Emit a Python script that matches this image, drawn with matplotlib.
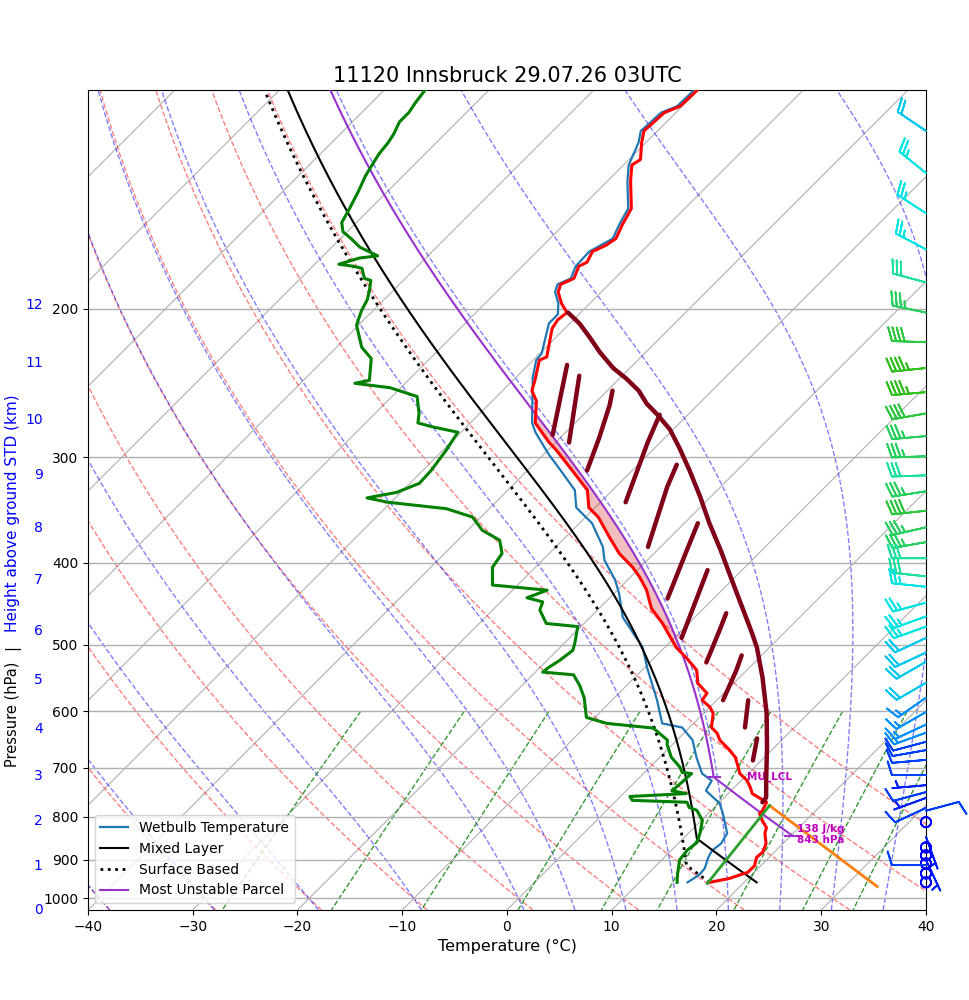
import numpy as np
import matplotlib
matplotlib.use('Agg')
import matplotlib.pyplot as plt
import matplotlib.transforms as mtransforms
from matplotlib.colors import LinearSegmentedColormap, Normalize
from matplotlib.ticker import FixedLocator, NullLocator, FuncFormatter

title = '11120 Innsbruck 29.07.26 03UTC'

# ---- sounding (hPa, degC) ----
pres = [957, 947, 931, 914, 894, 881, 861, 837, 824, 808, 793, 787, 769, 751, 738,
        724, 711, 695, 680, 667, 649, 637, 627, 603, 593, 582, 571, 556, 536, 518,
        504, 494, 472, 453, 431, 423, 416, 405, 390, 373, 353, 344, 328, 308, 294,
        288, 273, 257, 250, 243, 230, 228, 211, 206, 202, 197, 191, 187, 184, 178,
        176, 171, 168, 165, 159, 152, 141, 135, 133, 127, 123, 120, 117, 115, 110]
temp = [16.7, 18.2, 19.4, 19.4, 18.8, 18.9, 18.4, 17.3, 16.9, 15.8, 14.9, 14.9, 14.5, 12.3, 11.5,
        10.5, 9.2, 8.2, 7.2, 6.0, 4.1, 3.2, 2.1, 0.9, 0.0, -1.4, -1.6, -3.4, -4.8, -7.0,
        -8.9, -10.0, -12.5, -15.0, -17.2, -18.2, -19.1, -20.7, -23.3, -25.8, -28.8, -30.6, -32.4, -36.3, -39.2,
        -40.6, -43.8, -45.8, -47.2, -47.9, -49.4, -49.0, -51.2, -51.5, -51.3, -52.7, -54.1, -54.6, -53.9, -54.6,
        -54.2, -54.7, -54.0, -53.7, -54.4, -55.1, -57.8, -59.2, -58.9, -60.4, -61.3, -61.2, -61.1, -60.2, -60.1]

dew_pres = [957, 934, 900, 877, 858, 837, 808, 786, 780, 769, 765, 757, 751, 745, 728,
            711, 709, 699, 680, 657, 649, 628, 620, 610, 578, 559, 543, 539, 533, 522,
            508, 498, 476, 472, 455, 445, 440, 431, 425, 405, 390, 376, 366, 353, 345,
            339, 335, 330, 322, 311, 294, 280, 276, 273, 266, 254, 248, 245, 243, 229,
            222, 209, 201, 195, 190, 185, 184, 179, 178, 177, 174, 173, 169, 165, 162,
            158, 152, 145, 139, 135, 131, 127, 124, 120, 117, 114, 110]
dewp = [13.6, 12.8, 11.7, 11.5, 11.7, 11.1, 10.1, 8.6, 7.6, 6.9, 1.5, 0.9, 6.0, 4.4, 4.5,
        4.6, 3.6, 2.9, 1.1, -0.5, -0.9, -3.4, -8.3, -10.8, -12.9, -14.5, -16.1, -19.3, -19.2, -18.8,
        -18.5, -19.0, -20.3, -23.6, -25.5, -26.0, -27.9, -26.7, -32.4, -34.1, -34.5, -36.0, -38.6, -40.8, -44.1,
        -50.3, -52.7, -50.4, -49.1, -49.2, -49.7, -50.3, -53.2, -55.0, -55.8, -57.6, -61.0, -64.8, -63.7, -65.6,
        -67.6, -70.2, -71.1, -71.6, -72.3, -73.1, -73.9, -75.1, -76.1, -77.7, -76.3, -74.8, -77.3, -79.0, -80.4,
        -81.4, -82.0, -82.8, -83.6, -84.0, -84.4, -84.6, -84.9, -85.5, -85.5, -85.8, -86.1]

wb_pres = [957, 937, 921, 894, 877, 861, 837, 793, 771, 745, 725, 711, 680, 649, 627,
           620, 582, 532, 504, 464, 435, 419, 397, 383, 359, 344, 328, 311, 297, 280,
           273, 241, 230, 226, 208, 203, 197, 191, 187, 184, 178, 171, 165, 159, 152,
           141, 135, 127, 123, 117, 115, 110]
wetbulb = [14.6, 15.0, 14.9, 14.2, 13.9, 14.1, 13.7, 11.4, 10.1, 7.6, 7.2, 5.6, 3.5, 1.5, -0.7,
           -3.0, -5.7, -9.8, -12.1, -16.9, -19.5, -21.2, -24.1, -25.5, -28.8, -31.8, -33.6, -36.8, -39.6, -42.9,
           -44.1, -48.4, -49.7, -49.8, -52.0, -52.0, -53.0, -54.4, -54.9, -54.2, -54.9, -55.0, -54.0, -54.7, -55.4,
           -58.1, -59.5, -60.7, -61.6, -61.4, -60.5, -60.4]

# ---- parcels: start pressure, start temperature, LCL pressure ----
ml_p0, ml_t0, ml_lcl = 957.0, 21.2, 849.0
mu_p0, mu_t0, mu_lcl = 843.0, 20.2, 718.0
mu_cape = 138

# ---- extra lines near the ground ----
inv_p = [968.0, 776.0]
inv_t = [33.1, 15.1]
sfc_p = [960.0, 776.0]
sfc_t = [16.6, 15.1]

# ---- dark red pen marks ----
mark_p = [202, 208, 216, 225, 235, 242, 250, 259, 267, 278, 292, 311, 334, 359, 386,
          423, 452, 485, 504, 547, 603, 662, 725, 759, 769]
mark_t = [-51.2, -49.1, -46.8, -44.4, -41.6, -39.3, -37.0, -35.0, -32.9, -30.3, -27.7, -24.5, -21.0, -17.6, -14.0,
          -9.6, -6.4, -3.0, -1.2, 2.2, 6.0, 9.3, 12.4, 14.0, 14.1]
stroke_p = [[233, 282], [240, 288], [250, 260, 284, 311], [267, 288, 339], [306, 325, 383],
            [359, 386, 441], [408, 491], [459, 481, 525], [515, 536, 582], [582, 627], [646, 686]]
stroke_t = [[-46.3, -41.0], [-44.1, -38.7], [-39.5, -38.4, -36.3, -34.3], [-32.7, -31.2, -27.6],
            [-26.3, -25.1, -21.2], [-18.7, -17.2, -14.4], [-13.3, -9.3], [-7.4, -6.4, -4.6],
            [-1.9, -1.0, 0.6], [3.0, 5.3], [7.5, 9.2]]

# ---- winds (hPa, deg, kt) ----
wind_p = [123, 138, 154, 170, 186, 202, 219, 235, 251, 266, 283, 299, 315, 329, 347,
          363, 378, 395, 415, 427, 446, 463, 476, 491, 511, 524, 555, 578, 601, 622,
          636, 652, 667, 685, 714, 734, 748, 760, 781, 787, 812, 845, 870, 889, 900,
          909, 913, 934, 957]
wind_dir = [304, 309, 303, 298, 285, 282, 272, 264, 265, 260, 265, 268, 268, 261, 264,
            257, 260, 270, 276, 276, 255, 250, 250, 245, 245, 240, 240, 235, 240, 245,
            250, 255, 260, 265, 270, 265, 255, 250, 245, 75, 0, 160, 0, 0, 155,
            0, 270, 0, 0]
wind_spd = [20, 25, 25, 25, 30, 35, 40, 45, 45, 40, 35, 35, 30, 35, 40,
            35, 35, 30, 30, 25, 25, 25, 25, 20, 20, 20, 20, 15, 15, 15,
            15, 10, 10, 10, 10, 5, 10, 5, 10, 10, 0, 5, 0, 0, 5,
            0, 10, 0, 0]

# ---- chart frame ----
PBOT, PTOP = 1032.0, 110.0
TMIN, TMAX = -40, 40
AX_RECT = [0.0907, 0.09, 0.8639, 0.82]
FIGSIZE = (9.7, 10)
SKEW = (TMAX - TMIN) * (AX_RECT[3] * FIGSIZE[1]) / (AX_RECT[2] * FIGSIZE[0])

RD, CP, LV, EPS = 287.04749, 1004.666, 2.50084e6, 0.6219569
KAPPA = RD / CP


def sx(t, p):
    p = np.asarray(p, dtype=float)
    return np.asarray(t, dtype=float) + SKEW * np.log(PBOT / p) / np.log(PBOT / PTOP)


def sat_vp(tc):
    return 6.112 * np.exp(17.67 * tc / (tc + 243.5))


def moist_rate(tk, p):
    es = sat_vp(tk - 273.15)
    rs = EPS * es / (p - es)
    return (RD * tk + LV * rs) / (CP + LV * LV * rs * EPS / (RD * tk * tk)) / p


def moist_path(tc, p0, p1, n=250):
    ps = np.geomspace(p0, p1, n)
    ts = np.empty(n)
    ts[0] = tc + 273.15
    for i in range(n - 1):
        h = ps[i + 1] - ps[i]
        t, p = ts[i], ps[i]
        k1 = moist_rate(t, p)
        k2 = moist_rate(t + h / 2 * k1, p + h / 2)
        k3 = moist_rate(t + h / 2 * k2, p + h / 2)
        k4 = moist_rate(t + h * k3, p + h)
        ts[i + 1] = t + h / 6 * (k1 + 2 * k2 + 2 * k3 + k4)
    return ps, ts - 273.15


def parcel(p0, t0, p_lcl):
    pd = np.geomspace(p0, p_lcl, 30)
    td = (t0 + 273.15) * (pd / p0) ** KAPPA - 273.15
    pm, tm = moist_path(td[-1], p_lcl, PTOP)
    return np.concatenate([pd, pm[1:]]), np.concatenate([td, tm[1:]])


def bolton_lcl(p, t, td):
    tk, tdk = t + 273.15, td + 273.15
    tl = 1.0 / (1.0 / (tdk - 56.0) + np.log(tk / tdk) / 800.0) + 56.0
    return p * (tl / tk) ** (1.0 / KAPPA)


def std_height_p(h_km, p_sfc):
    z = 44330.8 * (1 - (p_sfc / 1013.25) ** 0.190263) + np.asarray(h_km) * 1000.0
    low = 1013.25 * np.clip(1 - z / 44330.8, 1e-6, None) ** 5.25588
    high = 226.32 * np.exp(-9.80665 * (z - 11000.0) / (287.05 * 216.65))
    return np.where(z <= 11000.0, low, high)


fig = plt.figure(figsize=FIGSIZE, dpi=100)
ax = fig.add_axes(AX_RECT)
ax.set_yscale('log')

# background lines
for t in np.arange(-130, 50, 10):
    ax.plot(sx([t, t], [PBOT, PTOP]), [PBOT, PTOP], color='#b0b0b0', lw=0.8, zorder=1)

p_bg = np.geomspace(PBOT, PTOP, 80)
for t0 in np.arange(-40, 51, 10):
    tt = (t0 + 273.15) * (p_bg / 1000.0) ** KAPPA - 273.15
    ax.plot(sx(tt, p_bg), p_bg, color='r', ls='--', lw=1.0, alpha=0.5, zorder=1)

for t0 in [-40, -30, -20, -10, 0, 5, 10, 15, 20, 25, 30, 35, 40]:
    pu, tu = moist_path(t0, 1000.0, PTOP)
    pl, tl = moist_path(t0, 1000.0, PBOT, n=20)
    pp = np.concatenate([pl[::-1], pu[1:]])
    tt = np.concatenate([tl[::-1], tu[1:]])
    ax.plot(sx(tt, pp), pp, color='b', ls='--', lw=1.0, alpha=0.5, zorder=1)

p_mix = np.linspace(600, PBOT, 40)
for w in [0.0004, 0.001, 0.002, 0.004, 0.007, 0.01, 0.016, 0.024, 0.032]:
    e = p_mix * w / (EPS + w)
    le = np.log(e / 6.112)
    td = 243.5 * le / (17.67 - le)
    ax.plot(sx(td, p_mix), p_mix, color='g', ls='--', lw=1.0, alpha=0.8, zorder=1)

# sounding
ax.plot(sx(wetbulb, wb_pres), wb_pres, color='tab:blue', lw=1.6, zorder=3,
        label='Wetbulb Temperature')
ax.plot(sx(temp, pres), pres, color='r', lw=2.2, zorder=4)
ax.plot(sx(dewp, dew_pres), dew_pres, color='g', lw=2.2, zorder=4)

# parcels
ml_pp, ml_tp = parcel(ml_p0, ml_t0, ml_lcl)
ax.plot(sx(ml_tp, ml_pp), ml_pp, color='k', lw=1.5, zorder=3, label='Mixed Layer')

sb_lcl = bolton_lcl(pres[0], temp[0], dewp[0])
sb_pp, sb_tp = parcel(pres[0], temp[0], sb_lcl)
ax.plot(sx(sb_tp, sb_pp), sb_pp, color='k', ls=':', lw=2, zorder=3, label='Surface Based')

mu_pp, mu_tp = parcel(mu_p0, mu_t0, mu_lcl)
ax.plot(sx(mu_tp, mu_pp), mu_pp, color='darkorchid', lw=1.5, zorder=3,
        label='Most Unstable Parcel')

# CAPE shading
t_env = np.interp(-np.log(mu_pp), -np.log(np.array(pres, float)), temp)
cape_zone = (mu_tp > t_env) & (mu_pp < mu_lcl)
ax.fill_betweenx(mu_pp, sx(t_env, mu_pp), sx(mu_tp, mu_pp), where=cape_zone,
                 interpolate=True, facecolor='tab:red', alpha=0.3, zorder=2)

# lines near the ground
ax.plot(sx(inv_t, inv_p), inv_p, color='tab:orange', lw=2, zorder=4)
ax.plot(sx(sfc_t, sfc_p), sfc_p, color='tab:green', lw=2, zorder=4)

# markers and labels for the MU parcel
lcl_t = mu_tp[29]
ax.plot(sx([lcl_t], [mu_lcl]), [mu_lcl], marker='_', ms=10, mew=1.5,
        color='darkorchid', zorder=5)
ax.plot(sx([mu_t0], [mu_p0]), [mu_p0], marker='_', ms=13, mew=1.5,
        color='darkorchid', zorder=5)
ax.annotate('MU_LCL', (sx(lcl_t, mu_lcl), mu_lcl), xytext=(24, 0),
            textcoords='offset points', color='m', fontsize=7.5, fontweight='bold',
            ha='left', va='center', zorder=6)
ax.annotate(f'{mu_cape} J/kg\n{mu_p0:.0f} hPa', (sx(mu_t0, mu_p0), mu_p0),
            xytext=(3, 1), textcoords='offset points', color='m', fontsize=7.5,
            fontweight='bold', ha='left', va='center', linespacing=1.15, zorder=6)

# pen marks
mark_c = '#80001a'
ax.plot(sx(mark_t, mark_p), mark_p, color=mark_c, lw=3.2, solid_capstyle='round',
        solid_joinstyle='round', zorder=6)
for sp, st in zip(stroke_p, stroke_t):
    ax.plot(sx(st, sp), sp, color=mark_c, lw=3.2, solid_capstyle='round',
            solid_joinstyle='round', zorder=6)

# wind barbs on the right edge
wd = np.radians(wind_dir)
spd = np.array(wind_spd, float)
u = -spd * np.sin(wd)
v = -spd * np.cos(wd)
barb_cmap = LinearSegmentedColormap.from_list('barbs', [
    (0.0, '#0000ff'), (10 / 45, '#0040ff'), (15 / 45, '#0090ff'), (20 / 45, '#00c8f0'),
    (25 / 45, '#00e5e5'), (30 / 45, '#1ee0a0'), (35 / 45, '#28d060'), (1.0, '#32c020')])
btrans = mtransforms.blended_transform_factory(ax.transAxes, ax.transData)
ax.barbs(np.ones(len(wind_p)), wind_p, u, v, spd, cmap=barb_cmap, norm=Normalize(0, 45),
         transform=btrans, clip_on=False, length=7, linewidth=1.3, zorder=7)

# axes
ax.set_xlim(TMIN, TMAX)
ax.set_ylim(PBOT, PTOP)
ax.set_xticks(np.arange(TMIN, TMAX + 1, 10))
ax.yaxis.set_major_locator(FixedLocator(np.arange(100, 1001, 100)))
ax.yaxis.set_minor_locator(NullLocator())
ax.yaxis.set_major_formatter(FuncFormatter(lambda y, _: f'{y:.0f}'))
ax.grid(axis='y', color='#b0b0b0', lw=1.0)
ax.set_xlabel('Temperature (°C)', fontsize=11.5)
ax.set_title(title, fontsize=15)

h_km = np.arange(0, 13)
for h, ph in zip(h_km, std_height_p(h_km, PBOT)):
    ax.text(-0.054, ph, str(h), transform=btrans, color='blue', ha='right', va='center',
            fontsize=10)

fig.text(0.0125, 0.286, 'Pressure (hPa)', rotation=90, ha='center', va='center', fontsize=10.5)
fig.text(0.0125, 0.353, '|', rotation=90, ha='center', va='center', fontsize=10.5)
fig.text(0.0125, 0.487, 'Height above ground STD (km)', rotation=90, ha='center',
         va='center', fontsize=11, color='blue')

ax.legend(loc='lower left')

fig.savefig('out.png', dpi=100)
